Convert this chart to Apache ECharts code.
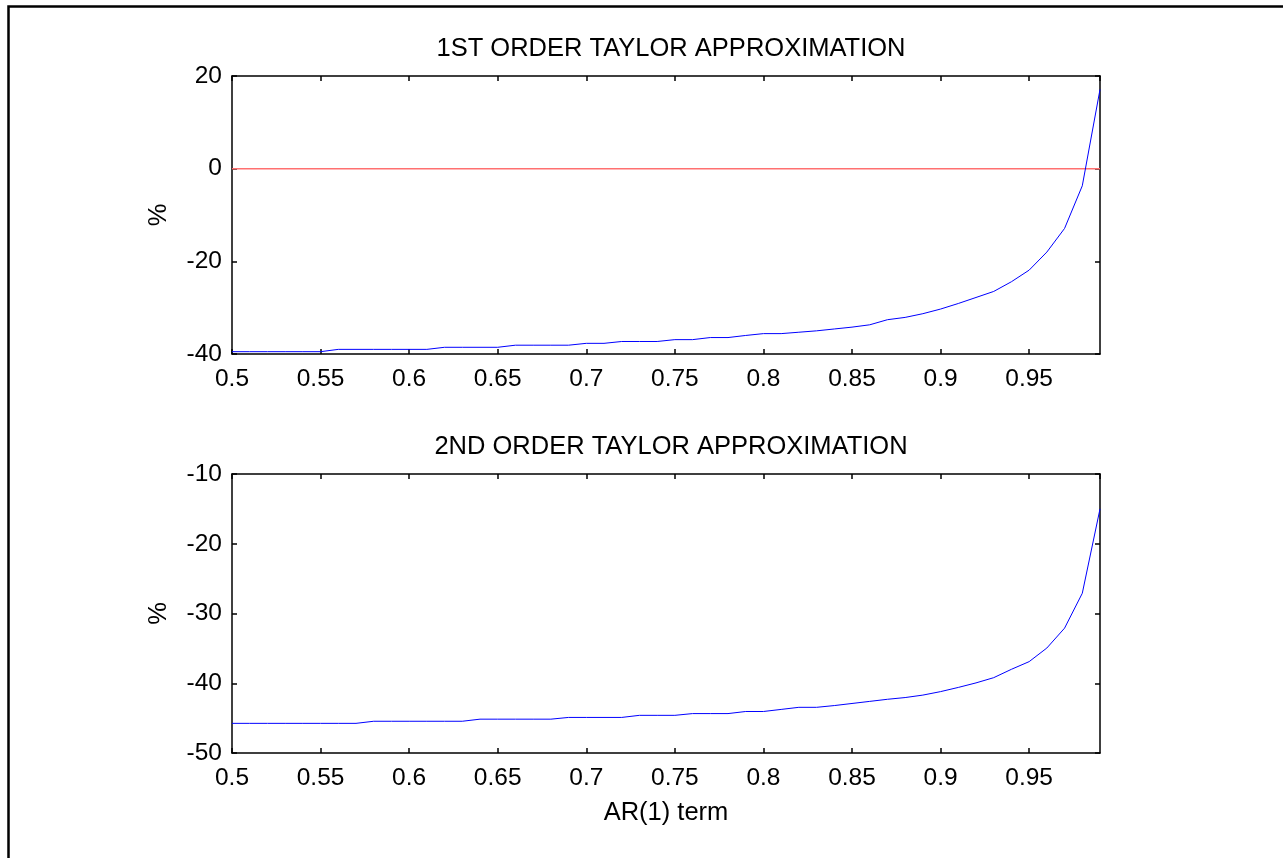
<!DOCTYPE html>
<html>
<head>
<meta charset="utf-8">
<script src="https://cdn.jsdelivr.net/npm/echarts@6/dist/echarts.min.js"></script>
<style>
html,body{margin:0;padding:0;background:#fff;}
#chart{width:1283px;height:858px;}
</style>
</head>
<body>
<div id="chart"></div>
<script>
const arTerms = [0.50,0.51,0.52,0.53,0.54,0.55,0.56,0.57,0.58,0.59,
                 0.60,0.61,0.62,0.63,0.64,0.65,0.66,0.67,0.68,0.69,
                 0.70,0.71,0.72,0.73,0.74,0.75,0.76,0.77,0.78,0.79,
                 0.80,0.81,0.82,0.83,0.84,0.85,0.86,0.87,0.88,0.89,
                 0.90,0.91,0.92,0.93,0.94,0.95,0.96,0.97,0.98,0.99];
const firstOrder = [-39.5,-39.5,-39.5,-39.5,-39.5,-39.5,-39.0,-39.0,-39.0,-39.0,
                    -39.0,-39.0,-38.55,-38.55,-38.55,-38.55,-38.1,-38.1,-38.1,-38.1,
                    -37.7,-37.7,-37.3,-37.3,-37.3,-36.9,-36.9,-36.45,-36.45,-36.0,
                    -35.6,-35.6,-35.3,-35.0,-34.6,-34.2,-33.7,-32.6,-32.1,-31.3,
                    -30.3,-29.1,-27.8,-26.5,-24.4,-21.9,-18.0,-12.9,-3.7,17.1];
const secondOrder = [-45.75,-45.75,-45.75,-45.75,-45.75,-45.75,-45.75,-45.75,-45.45,-45.45,
                     -45.45,-45.45,-45.45,-45.45,-45.15,-45.15,-45.15,-45.15,-45.15,-44.9,
                     -44.9,-44.9,-44.9,-44.6,-44.6,-44.6,-44.35,-44.35,-44.35,-44.05,
                     -44.05,-43.75,-43.45,-43.45,-43.2,-42.9,-42.6,-42.3,-42.05,-41.7,
                     -41.2,-40.6,-39.95,-39.2,-38.0,-36.9,-34.95,-32.1,-27.1,-15.0];
const zeroLine = [0, 0];
const zeroLineX = [0.50, 0.99];
const titles = ['1ST ORDER TAYLOR APPROXIMATION', '2ND ORDER TAYLOR APPROXIMATION'];
const yLabel = '%';
const xLabel = 'AR(1) term';
const xTicks = {min: 0.5, max: 0.99, interval: 0.05};
const yTicksTop = {min: -40, max: 20, interval: 20};
const yTicksBottom = {min: -50, max: -10, interval: 10};

const FONT = 'Liberation Sans, Arial, sans-serif';
const TICK_FS = 24.5;
const TEXT_FS = 25.5;
const chart = echarts.init(document.getElementById('chart'), null, {renderer: 'canvas'});

const axisLine = {show: true, onZero: false, lineStyle: {color: '#000', width: 1.5}};
const tick = {show: true, inside: true, length: 5, lineStyle: {color: '#000', width: 1.5}};

function xAxes(gi, withLabels) {
  const base = {
    type: 'value', gridIndex: gi, min: xTicks.min, max: xTicks.max, interval: xTicks.interval,
    splitLine: {show: false}, axisLine: axisLine, axisTick: tick
  };
  return [
    Object.assign({}, base, {
      position: 'bottom',
      axisLabel: {show: true, showMaxLabel: false, color: '#000', fontSize: TICK_FS, fontFamily: FONT, margin: 13},
      name: withLabels ? xLabel : '', nameLocation: 'middle', nameGap: 47,
      nameTextStyle: {color: '#000', fontSize: TEXT_FS, fontFamily: FONT}
    }),
    Object.assign({}, base, {position: 'top', axisLabel: {show: false}})
  ];
}
function yAxes(gi, t) {
  const base = {
    type: 'value', gridIndex: gi, min: t.min, max: t.max, interval: t.interval,
    splitLine: {show: false}, axisLine: axisLine, axisTick: tick
  };
  return [
    Object.assign({}, base, {
      position: 'left',
      axisLabel: {show: true, color: '#000', fontSize: TICK_FS, fontFamily: FONT, margin: 10},
      name: yLabel, nameLocation: 'middle', nameGap: 60, nameRotate: 90,
      nameTextStyle: {color: '#000', fontSize: TEXT_FS, fontFamily: FONT}
    }),
    Object.assign({}, base, {position: 'right', axisLabel: {show: false}})
  ];
}

const option = {
  backgroundColor: '#fff',
  animation: false,
  title: [
    {text: titles[0], left: 666, top: 31, textAlign: 'center',
     textStyle: {color: '#000', fontSize: TEXT_FS, fontWeight: 'normal', fontFamily: FONT}},
    {text: titles[1], left: 666, top: 429, textAlign: 'center',
     textStyle: {color: '#000', fontSize: TEXT_FS, fontWeight: 'normal', fontFamily: FONT}}
  ],
  grid: [
    {left: 232, top: 76, width: 868, height: 278},
    {left: 232, top: 474, width: 868, height: 279}
  ],
  xAxis: [].concat(xAxes(0, false), xAxes(1, true)),
  yAxis: [].concat(yAxes(0, yTicksTop), yAxes(1, yTicksBottom)),
  graphic: [
    {type: 'rect', left: 6, top: 4, shape: {width: 1300, height: 900},
     style: {fill: 'none', stroke: '#000', lineWidth: 2.5}, silent: true, z: 100}
  ],
  series: [
    {type: 'line', xAxisIndex: 0, yAxisIndex: 0, showSymbol: false,
     data: zeroLineX.map((x, i) => [x, zeroLine[i]]),
     lineStyle: {color: '#ff7070', width: 1.5}},
    {type: 'line', xAxisIndex: 0, yAxisIndex: 0, showSymbol: false,
     data: arTerms.map((x, i) => [x, firstOrder[i]]),
     lineStyle: {color: '#0000ff', width: 1}},
    {type: 'line', xAxisIndex: 2, yAxisIndex: 2, showSymbol: false,
     data: arTerms.map((x, i) => [x, secondOrder[i]]),
     lineStyle: {color: '#0000ff', width: 1}}
  ]
};
chart.setOption(option);
</script>
</body>
</html>
